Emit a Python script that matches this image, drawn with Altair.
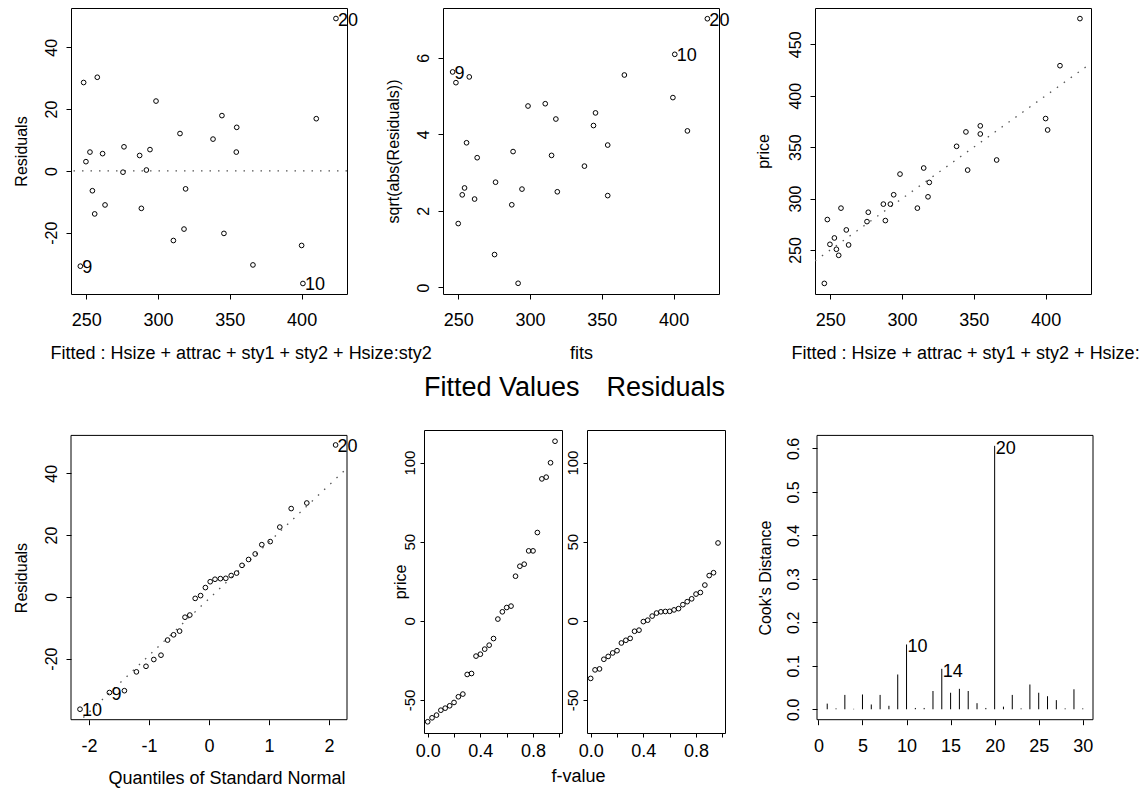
import altair as alt
import pandas as pd

FONT = "Liberation Sans"

# ---------------- data ----------------
# Panel 1: Residuals vs fitted
p1_fitted = [248.2, 257.7, 249.8, 252.6, 261.4, 254.3, 255.9, 263.1, 276.3, 275.6,
             287.2, 294.4, 291.9, 288.4, 298.6, 315.3, 319.2, 318.1, 310.7, 338.3,
             344.5, 354.8, 354.5, 345.9, 366.1, 410.2, 400.0, 400.9, 423.9, 245.9]
p1_resid = [28.6, 30.3, 3.0, 6.1, 5.6, -6.4, -13.9, -11.0, 7.8, -0.4,
            5.0, 6.9, 0.3, -12.1, 22.6, 12.1, -5.8, -18.8, -22.5, 10.3,
            17.9, 14.1, 6.1, -20.2, -30.4, 16.9, -24.1, -36.4, 49.3, -30.8]
p1_labels = [""] * 27 + ["10", "20", "9"]

# Panel 2: sqrt(abs(Residuals)) vs fits
p2_fitted = [246.1, 248.4, 257.7, 250.0, 254.4, 252.8, 255.8, 261.4, 263.2, 276.0,
             275.3, 287.3, 288.2, 291.7, 294.4, 298.6, 310.6, 315.0, 318.0, 319.0,
             337.9, 344.2, 345.6, 354.1, 354.1, 365.7, 399.5, 400.8, 409.6, 423.5]
p2_sqrt = [5.63, 5.35, 5.50, 1.67, 2.60, 2.42, 3.78, 2.31, 3.39, 2.75,
           0.86, 2.16, 3.55, 0.11, 2.57, 4.74, 4.80, 3.45, 4.40, 2.50,
           3.17, 4.23, 4.56, 3.72, 2.40, 5.55, 4.96, 6.09, 4.09, 7.02]
p2_labels = ["9"] + [""] * 26 + ["10", "", "20"]

# Panel 3: price vs fitted
p3_fitted = [245.9, 248.0, 249.8, 252.9, 254.3, 255.9, 257.5, 261.2, 262.8, 275.6,
             276.5, 287.0, 288.4, 291.9, 294.2, 298.6, 310.7, 315.1, 318.1, 319.0,
             338.0, 344.5, 345.7, 354.5, 354.5, 365.9, 400.0, 401.4, 410.0, 423.9]
p3_price = [217.5, 279.6, 255.5, 261.7, 250.7, 244.8, 290.7, 269.5, 254.9, 277.6,
            286.7, 294.6, 278.6, 294.6, 303.7, 323.8, 290.7, 329.7, 301.7, 315.7,
            350.8, 364.8, 327.7, 370.7, 362.8, 337.5, 377.8, 366.7, 429.2, 475.0]
p3_line_x = [239.4, 431.6]
p3_line_y = [239.4, 431.6]

# Panel 4: normal QQ plot of residuals
qq_x = [-2.15, -1.66, -1.41, -1.21, -1.05, -0.92, -0.80, -0.69, -0.59, -0.49,
        -0.40, -0.32, -0.23, -0.14, -0.06, 0.02, 0.10, 0.19, 0.28, 0.37,
        0.46, 0.55, 0.66, 0.77, 0.88, 1.02, 1.18, 1.37, 1.63, 2.11]
resid_sorted = [-36.4, -31.0, -30.4, -24.3, -22.5, -20.3, -18.9, -14.0, -12.3, -11.1,
                -6.6, -5.9, -0.5, 0.4, 3.0, 4.9, 5.7, 5.9, 6.0, 6.9,
                7.7, 10.2, 12.1, 13.9, 16.9, 17.9, 22.6, 28.6, 30.4, 49.2]
qq_labels = ["10", "9"] + [""] * 27 + ["20"]
qq_line_x = [-2.30, 2.30]
qq_line_y = [-42.9, 41.7]

# Panel 5: residual-fit spread
f_values = [0.0, 0.033, 0.067, 0.1, 0.133, 0.167, 0.2, 0.233, 0.267, 0.3,
            0.333, 0.367, 0.4, 0.433, 0.467, 0.5, 0.533, 0.567, 0.6, 0.633,
            0.667, 0.7, 0.733, 0.767, 0.8, 0.833, 0.867, 0.9, 0.933, 0.967]
fitted_centered_sorted = [-63.8, -61.3, -59.6, -56.5, -55.2, -53.7, -51.6, -48.0, -46.3, -33.9,
                          -33.3, -22.3, -21.1, -17.9, -15.4, -11.2, 1.1, 5.7, 8.4, 9.3,
                          28.2, 34.5, 35.8, 44.2, 44.2, 55.8, 89.7, 90.8, 99.9, 113.5]

# Panel 6: Cook's distance
obs_index = list(range(1, 31))
cooks = [0.013, 0.002, 0.033, 0.001, 0.034, 0.011, 0.033, 0.008, 0.080, 0.149,
         0.003, 0.003, 0.042, 0.093, 0.038, 0.047, 0.042, 0.014, 0.003, 0.606,
         0.006, 0.033, 0.002, 0.057, 0.038, 0.030, 0.021, 0.002, 0.046, 0.002]
cook_labels = ["" for _ in range(30)]
cook_labels[9] = "10"
cook_labels[13] = "14"
cook_labels[19] = "20"

# ---------------- helpers ----------------
INT_LABEL = "toString(datum.value)"
YPAD = 9.5


def xaxis(values, title, titleX=None, titleAlign=None, labelPadding=26.5, titleY=64,
          tickSize=5, labelExpr=INT_LABEL):
    kw = dict(values=values, title=title, tickSize=tickSize, labelPadding=labelPadding,
              labelFontSize=18, labelBaseline="alphabetic", labelAngle=0,
              labelAlign="center", titleFontSize=18, titleBaseline="alphabetic",
              titleY=titleY, labelExpr=labelExpr, labelFlush=False, labelOverlap=False)
    if titleX is not None:
        kw["titleX"] = titleX
        kw["titleAlign"] = titleAlign
    return alt.Axis(**kw)


def yaxis(values, title, titleX=-45, labelPadding=YPAD, tickSize=5, fontSize=16,
          labelExpr=INT_LABEL):
    kw = dict(values=values, title=title, tickSize=tickSize, labelPadding=labelPadding,
              labelFontSize=fontSize, labelAngle=270, labelAlign="center",
              labelBaseline="alphabetic", titleFontSize=16, titleAngle=270,
              titleBaseline="alphabetic", labelExpr=labelExpr,
              labelFlush=False, labelOverlap=False)
    if title is not None:
        kw["titleX"] = titleX
        kw["titleAlign"] = "center"
    return alt.Axis(**kw)


def points(df, X, Y):
    return alt.Chart(df).mark_point(shape="circle", filled=False, size=22,
                                    strokeWidth=1, color="black", opacity=1).encode(x=X, y=Y)


def labels(df, X, Y):
    return alt.Chart(df).mark_text(align="left", baseline="middle", dx=2, dy=2,
                                   fontSize=18, font=FONT, color="black").encode(
        x=X, y=Y, text="lab:N")


def frame(X, Y, xdom, ydom):
    # box drawn at the extent of the axes (scale domain), S-PLUS style
    df = pd.DataFrame({"x": [xdom[0]], "x2": [xdom[1]], "y": [ydom[0]], "y2": [ydom[1]]})
    return alt.Chart(df).mark_rect(fillOpacity=0, stroke="black", strokeWidth=1).encode(
        x=X, x2=alt.X2("x2:Q"), y=Y, y2=alt.Y2("y2:Q"))


DOT = dict(strokeDash=[1.5, 7], color="#555555", strokeWidth=1.3)
NOVIEW = alt.ViewBackground(stroke="transparent")


def spacer(w, h):
    return alt.Chart(pd.DataFrame({"v": pd.Series([], dtype=float)})).mark_point(
        opacity=0).encode(x=alt.value(0), y=alt.value(0)).properties(
        width=w, height=h, view=NOVIEW)


FIT_DOM = [239.4, 431.6]
FIT_TICKS = [250, 300, 350, 400]
W, H = 276, 286

# ---------------- panel 1 ----------------
d1 = pd.DataFrame({"x": p1_fitted, "y": p1_resid, "lab": p1_labels})
X1 = alt.X("x:Q", scale=alt.Scale(domain=FIT_DOM, nice=False, zero=False),
           axis=xaxis(FIT_TICKS, "Fitted : Hsize + attrac + sty1 + sty2 + Hsize:sty2",
                      titleX=-21, titleAlign="left"))
Y1 = alt.Y("y:Q", scale=alt.Scale(domain=[-39.8, 52.7], nice=False, zero=False),
           axis=yaxis([-40, -20, 0, 20, 40], "Residuals"))
zero1 = alt.Chart(pd.DataFrame({"y": [0]})).mark_rule(**DOT).encode(y=Y1)
p1 = alt.layer(zero1, points(d1, X1, Y1), labels(d1, X1, Y1)).properties(width=W, height=H)

# ---------------- panel 2 ----------------
d2 = pd.DataFrame({"x": p2_fitted, "y": p2_sqrt, "lab": p2_labels})
X2 = alt.X("x:Q", scale=alt.Scale(domain=FIT_DOM, nice=False, zero=False),
           axis=xaxis(FIT_TICKS, "fits"))
Y2 = alt.Y("y:Q", scale=alt.Scale(domain=[-0.17, 7.30], nice=False, zero=False),
           axis=yaxis([0, 2, 4, 6], "sqrt(abs(Residuals))"))
p2 = alt.layer(points(d2, X2, Y2), labels(d2, X2, Y2)).properties(width=W, height=H)

# ---------------- panel 3 ----------------
d3 = pd.DataFrame({"x": p3_fitted, "y": p3_price})
X3 = alt.X("x:Q", scale=alt.Scale(domain=FIT_DOM, nice=False, zero=False),
           axis=xaxis(FIT_TICKS, "Fitted : Hsize + attrac + sty1 + sty2 + Hsize:",
                      titleX=-24, titleAlign="left"))
Y3 = alt.Y("y:Q", scale=alt.Scale(domain=[207.2, 485.3], nice=False, zero=False),
           axis=yaxis([250, 300, 350, 400, 450], "price", titleX=-47))
line3 = alt.Chart(pd.DataFrame({"x": p3_line_x, "y": p3_line_y})).mark_line(
    clip=True, **DOT).encode(x=X3, y=Y3)
p3 = alt.layer(line3, points(d3, X3, Y3)).properties(width=W, height=H)

# ---------------- row-2 geometry ----------------
H2 = 303           # height of the residual-fit spread panels
H4 = 289.7         # cell height for QQ / Cook's panels (frame starts lower)
TOP4 = 5.4         # frame of QQ / Cook's panels starts this far below the row top

# ---------------- panel 4 ----------------
QQX_DOM = [-2.30, 2.30]
QQY_DOM = [-39.8, 52.3]
d4 = pd.DataFrame({"x": qq_x, "y": resid_sorted, "lab": qq_labels})
X4 = alt.X("x:Q", scale=alt.Scale(domain=QQX_DOM, nice=False, zero=False),
           axis=xaxis([-2, -1, 0, 1, 2], "Quantiles of Standard Normal",
                      titleX=37, titleAlign="left"))
Y4 = alt.Y("y:Q", scale=alt.Scale(domain=QQY_DOM, nice=False, zero=False,
                                  range=[H4, TOP4]),
           axis=yaxis([-40, -20, 0, 20, 40], "Residuals"))
line4 = alt.Chart(pd.DataFrame({"x": qq_line_x, "y": qq_line_y})).mark_line(
    clip=True, **DOT).encode(x=X4, y=Y4)
p4 = alt.layer(frame(X4, Y4, QQX_DOM, QQY_DOM), line4, points(d4, X4, Y4),
               labels(d4, X4, Y4)).properties(width=276, height=H4, view=NOVIEW)

# ---------------- panel 5 ----------------
F_DOM = [-0.028, 1.02]
F_TICKS = [0.0, 0.2, 0.4, 0.6, 0.8, 1.0]
F_EXPR = ("(abs(datum.value) < 0.01 || abs(datum.value - 0.4) < 0.01 || "
          "abs(datum.value - 0.8) < 0.01) ? format(datum.value, '.1f') : ''")
RF_DOM = [-70.9, 120.6]
d5a = pd.DataFrame({"x": f_values, "y": fitted_centered_sorted})
d5b = pd.DataFrame({"x": f_values, "y": resid_sorted})
X5a = alt.X("x:Q", scale=alt.Scale(domain=F_DOM, nice=False, zero=False),
            axis=xaxis(F_TICKS, "f-value", titleX=154, titleAlign="center",
                       labelPadding=19.5, titleY=48.5, tickSize=4, labelExpr=F_EXPR))
X5b = alt.X("x:Q", scale=alt.Scale(domain=F_DOM, nice=False, zero=False),
            axis=xaxis(F_TICKS, None, labelPadding=19.5, tickSize=4, labelExpr=F_EXPR))
Y5a = alt.Y("y:Q", scale=alt.Scale(domain=RF_DOM, nice=False, zero=False),
            axis=yaxis([-50, 0, 50, 100], "price", titleX=-19, labelPadding=5.4,
                       tickSize=4, fontSize=15))
Y5b = alt.Y("y:Q", scale=alt.Scale(domain=RF_DOM, nice=False, zero=False),
            axis=yaxis([-50, 0, 50, 100], None, labelPadding=5.4, tickSize=4, fontSize=15))
p5a = points(d5a, X5a, Y5a).properties(
    width=138, height=H2,
    title=alt.TitleParams("Fitted Values", anchor="start", frame="group", fontSize=27,
                          font=FONT, fontWeight="normal", baseline="alphabetic",
                          offset=7, color="black"))
p5b = points(d5b, X5b, Y5b).properties(
    width=138, height=H2,
    title=alt.TitleParams("Residuals", anchor="end", frame="group", fontSize=27,
                          font=FONT, fontWeight="normal", baseline="alphabetic",
                          offset=7, color="black"))

# ---------------- panel 6 ----------------
CX_DOM = [-0.16, 31.16]
CY_DOM = [-0.024, 0.630]
d6 = pd.DataFrame({"x": obs_index, "y": cooks, "zero": [0.0] * 30, "lab": cook_labels})
X6 = alt.X("x:Q", scale=alt.Scale(domain=CX_DOM, nice=False, zero=False),
           axis=xaxis([0, 5, 10, 15, 20, 25, 30], None))
Y6 = alt.Y("y:Q", scale=alt.Scale(domain=CY_DOM, nice=False, zero=False,
                                  range=[H4, TOP4]),
           axis=yaxis([0, 0.1, 0.2, 0.3, 0.4, 0.5, 0.6], "Cook's Distance", titleX=-47,
                      labelPadding=13.3, labelExpr="format(datum.value, '.1f')"))
bars6 = alt.Chart(d6).mark_rule(color="black", strokeWidth=1).encode(
    x=X6, y=Y6, y2=alt.Y2("zero:Q"))
lab6 = alt.Chart(d6).mark_text(align="left", baseline="middle", dx=1, dy=3,
                               fontSize=18, font=FONT, color="black").encode(
    x=X6, y=Y6, text="lab:N")
p6 = alt.layer(frame(X6, Y6, CX_DOM, CY_DOM), bars6, lab6).properties(
    width=276, height=H4, view=NOVIEW)

# ---------------- layout ----------------
row1 = alt.hconcat(p1, p2, p3, spacing=96, bounds="flush")
row2 = alt.hconcat(p4, spacer(76.7, 1), p5a, spacer(24.7, 1), p5b, spacer(91.7, 1), p6,
                   spacing=0, bounds="flush")

chart = alt.vconcat(row1, row2, spacing=10).properties(
    padding={"left": 12, "top": 7, "right": 0, "bottom": 0},
    background="white",
).configure(font=FONT).configure_view(
    stroke="black", strokeWidth=1
).configure_axis(
    domain=False, grid=False, ticks=True, tickColor="black", tickWidth=1,
    labelColor="black", titleColor="black", labelFont=FONT, titleFont=FONT,
    titleFontWeight="normal"
)

chart.save("out.html", embed_options={"renderer": "svg", "actions": False})
